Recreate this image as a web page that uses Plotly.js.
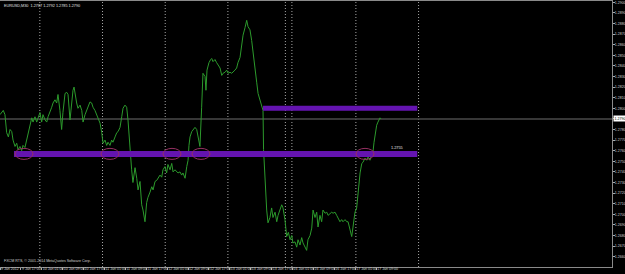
<!DOCTYPE html>
<html><head><meta charset="utf-8">
<script src="https://cdn.plot.ly/plotly-3.0.1.min.js"></script>
<style>html,body{margin:0;padding:0;background:#000;}#chart{width:625px;height:274px;}</style>
</head><body><div id="chart"></div>
<script>
// EURUSD M30 closes, x = bar index from 9 Jan 2012 09:00
const barIndex = [0,2.5,3.8,5.1,6.4,7.7,9.0,10.0,11.5,12.8,13.8,15.3,16.6,17.6,19.1,20.4,21.4,23.0,24.3,25.3,26.8,28.1,29.1,30.6,31.9,32.9,34.5,35.8,36.8,38.3,39.6,40.6,42.1,43.4,44.4,45.9,47.2,48.2,49.8,51.1,52.1,53.6,54.9,55.9,56.7,57.4,58.7,59.7,61.3,62.6,63.6,65.1,66.4,67.4,68.9,70.2,71.2,72.7,74.0,75.0,76.6,77.9,78.9,80.4,81.7,82.7,84.2,85.5,86.5,88.1,89.4,90.4,91.9,93.2,94.2,95.7,97.0,98.0,99.5,100.8,101.8,103.4,104.7,105.7,107.2,108.5,109.5,111.0,112.3,113.3,114.9,116.2,117.2,118.7,120.0,121.0,122.5,123.8,124.8,126.3,127.6,128.6,130.2,131.5,132.5,134.0,135.3,136.3,137.8,139.1,140.1,141.7,143.0,144.0,144.7,145.5,146.8,149.3,150.6,151.6,153.1,154.4,155.4,157.0,157.7,158.5,160.0,161.3,162.1,163.1,164.6,165.9,166.9,168.5,169.8,170.8,172.3,173.6,174.6,176.1,177.4,178.4,179.9,181.2,182.2,183.8,185.1,186.1,187.6,188.9,189.9,191.4,192.7,193.7,195.3,196.6,197.6,199.1,200.4,201.4,201.8,202.9,204.2,205.2,206.7,208.0,209.0,210.6,211.9,212.9,214.4,215.7,216.7,218.2,219.5,220.8,222.1,223.4,224.3,225.9,227.2,228.2,229.7,231.0,232.0,233.5,234.8,235.8,237.4,238.7,239.7,241.2,242.5,243.5,245.0,246.3,247.3,248.9,250.2,251.2,252.7,254.0,255.0,256.5,257.8,258.8,260.3,261.6,262.6,264.2,265.5,266.5,268.0,269.3,270.3,271.8,273.1,274.1,275.7,277.0,277.9,279.5,280.8,281.8,283.3,284.6,285.6,286.4,288.4,289.4,291.0,291.7];
const closePrice = [1.2794,1.2798,1.2794,1.2777,1.2773,1.2780,1.2778,1.2770,1.2764,1.2767,1.2761,1.2764,1.2760,1.2765,1.2763,1.2770,1.2777,1.2786,1.2791,1.2787,1.2792,1.2787,1.2791,1.2796,1.2787,1.2794,1.2789,1.2787,1.2792,1.2796,1.2801,1.2805,1.2808,1.2805,1.2813,1.2798,1.2780,1.2796,1.2814,1.2815,1.2813,1.2789,1.2810,1.2817,1.2820,1.2813,1.2805,1.2800,1.2803,1.2798,1.2787,1.2794,1.2798,1.2801,1.2806,1.2805,1.2801,1.2798,1.2794,1.2792,1.2786,1.2777,1.2767,1.2770,1.2765,1.2768,1.2765,1.2770,1.2768,1.2773,1.2777,1.2778,1.2782,1.2792,1.2800,1.2803,1.2801,1.2789,1.2761,1.2742,1.2730,1.2744,1.2734,1.2723,1.2731,1.2709,1.2704,1.2693,1.2711,1.2716,1.2721,1.2726,1.2723,1.2731,1.2732,1.2734,1.2737,1.2735,1.2742,1.2745,1.2739,1.2747,1.2742,1.2748,1.2740,1.2742,1.2740,1.2739,1.2740,1.2737,1.2739,1.2734,1.2745,1.2751,1.2765,1.2773,1.2778,1.2782,1.2780,1.2773,1.2764,1.2801,1.2833,1.2830,1.2817,1.2836,1.2843,1.2846,1.2847,1.2844,1.2846,1.2843,1.2841,1.2838,1.2831,1.2833,1.2834,1.2836,1.2833,1.2834,1.2833,1.2834,1.2836,1.2838,1.2843,1.2848,1.2858,1.2869,1.2876,1.2883,1.2877,1.2874,1.2864,1.2852,1.2836,1.2824,1.2814,1.2808,1.2801,1.2798,1.2761,1.2730,1.2704,1.2692,1.2697,1.2706,1.2697,1.2702,1.2693,1.2699,1.2704,1.2709,1.2706,1.2695,1.2679,1.2683,1.2676,1.2680,1.2673,1.2674,1.2669,1.2676,1.2671,1.2678,1.2673,1.2669,1.2666,1.2676,1.2680,1.2687,1.2704,1.2697,1.2702,1.2688,1.2699,1.2693,1.2704,1.2701,1.2702,1.2699,1.2701,1.2702,1.2701,1.2702,1.2699,1.2697,1.2693,1.2695,1.2693,1.2695,1.2693,1.2693,1.2685,1.2679,1.2688,1.2702,1.2706,1.2720,1.2739,1.2748,1.2749,1.2753,1.2751,1.2754,1.2751,1.2756,1.2759,1.2768,1.2784,1.2787,1.2791,1.2790];

const timeTickBars = [0,16,32,48,64,80,96,112,128,144,160,176,192,208,224,240,256,272,288];
const timeTickLabels = ["9 Jan 2012","9 Jan 17:00","10 Jan 01:00","10 Jan 09:00","10 Jan 17:00","11 Jan 01:00","11 Jan 09:00","11 Jan 17:00","12 Jan 01:00","12 Jan 09:00","12 Jan 17:00","13 Jan 01:00","13 Jan 09:00","13 Jan 17:00","16 Jan 01:00","16 Jan 09:00","16 Jan 17:00","17 Jan 01:00","17 Jan 09:00"];
const priceTicks = [1.2650,1.2660,1.2670,1.2680,1.2690,1.2700,1.2710,1.2720,1.2730,1.2740,1.2750,1.2760,1.2770,1.2780,1.2790,1.2800,1.2810,1.2820,1.2830,1.2840,1.2850,1.2860,1.2870,1.2880,1.2890,1.2900];
const daySeparatorBars = [30.5,78.5,126.5,174.5,218.5,223.5,272.5,320.5];

const levelPrices = [1.2757, 1.2800];
const levelStartBars = [10.7, 201.4];
const levelEndBars = [319.5, 319.5];
const levelLabel = "1.2755";
const touchBars = [18.4, 84.2, 131.7, 153.9, 279.5];
const currentPrice = 1.2790;
const headerText = "EURUSD,M30  1.2787 1.2792 1.2785 1.2790";
const copyrightText = "FXCM RTS, \u00a9 2001-2014 MetaQuotes Software Corp.";

const FONT = "Liberation Sans, Arial, sans-serif";
const shapes = [];
daySeparatorBars.forEach(b => shapes.push({type:'line', xref:'x', yref:'paper', x0:b, x1:b, y0:0, y1:1,
  line:{color:'#a8a8a8', width:1, dash:'1px,2px'}, layer:'below'}));
shapes.push({type:'line', xref:'paper', yref:'y', x0:0, x1:1, y0:currentPrice, y1:currentPrice,
  line:{color:'#4a4a4a', width:1.5}, layer:'below'});
const bandWidths = [6, 5];
levelPrices.forEach((p,i) => shapes.push({type:'line', xref:'x', yref:'y', x0:levelStartBars[i], x1:levelEndBars[i], y0:p, y1:p,
  line:{color:'#6414b0', width:bandWidths[i]}}));
touchBars.forEach(b => shapes.push({type:'circle', xref:'x', yref:'y', x0:b-6.9, x1:b+6.9,
  y0:levelPrices[0]-0.00052, y1:levelPrices[0]+0.00052, line:{color:'#963062', width:1}}));

const trace = {x: barIndex, y: closePrice, type:'scatter', mode:'lines',
  line:{color:'#2c9a2c', width:1}, hoverinfo:'skip'};

const layout = {
  width:625, height:274, margin:{l:0, r:13, t:1, b:7},
  paper_bgcolor:'#000', plot_bgcolor:'#000', showlegend:false,
  font:{family:FONT, size:3.6, color:'#d0d0d0'},
  xaxis:{range:[0,468.6], tickmode:'array', tickvals:timeTickBars, ticktext:timeTickLabels,
    ticks:'outside', ticklen:2, tickcolor:'#aaa', tickwidth:1, ticklabelposition:'outside right',
    tickangle:0, ticklabelstandoff:-2,
    tickfont:{family:FONT, size:3.6, color:'#d0d0d0'},
    showline:true, linecolor:'#8a8a8a', linewidth:1, mirror:true, showgrid:false, zeroline:false, automargin:false},
  yaxis:{range:[1.26503,1.29012], side:'right', tickmode:'array', tickvals:priceTicks,
    ticktext:priceTicks.map(v=>v.toFixed(4)), ticks:'outside', ticklen:2, tickcolor:'#aaa',
    ticklabelstandoff:-1,
    tickfont:{family:FONT, size:3.6, color:'#d0d0d0'},
    showline:true, linecolor:'#8a8a8a', linewidth:1, mirror:true, showgrid:false, zeroline:false, automargin:false},
  shapes: shapes,
  annotations:[
    {xref:'paper', yref:'paper', x:0.004, y:0.995, xanchor:'left', yanchor:'top', text:headerText, showarrow:false,
      font:{family:FONT, size:3.8, color:'#e0e0e0'}},
    {xref:'paper', yref:'paper', x:0.003, y:0.008, xanchor:'left', yanchor:'bottom', text:copyrightText, showarrow:false,
      font:{family:FONT, size:3.6, color:'#d0d0d0'}},
    {xref:'x', yref:'y', x:304, y:levelPrices[0], xanchor:'center', yanchor:'bottom', yshift:2, text:levelLabel, showarrow:false,
      font:{family:FONT, size:3.8, color:'#e8e8e8'}},
    {xref:'paper', yref:'y', x:1, y:currentPrice, xanchor:'left', yanchor:'middle', xshift:1, text:currentPrice.toFixed(4), showarrow:false,
      bgcolor:'#ffffff', borderpad:0.5, font:{family:FONT, size:3.6, color:'#000'}}
  ]
};
Plotly.newPlot('chart', [trace], layout, {staticPlot:true, displayModeBar:false});
</script></body></html>
